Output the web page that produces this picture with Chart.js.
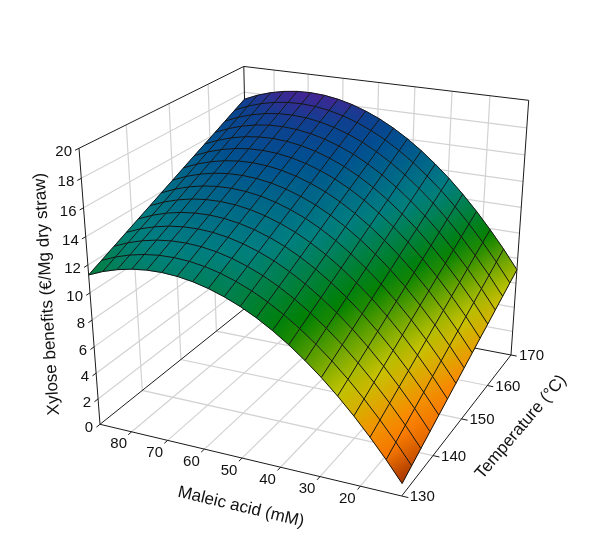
<!DOCTYPE html>
<html>
<head>
<meta charset="utf-8">
<style>
  html, body { margin: 0; padding: 0; background: #fff; }
  #wrap { width: 600px; height: 551px; }
</style>
<script src="https://cdn.jsdelivr.net/npm/chart.js@4"></script>
</head>
<body>
<div id="wrap"><canvas id="surfaceChart" width="600" height="551"></canvas></div>
<script>
"use strict";
const acidTicks = [80, 70, 60, 50, 40, 30, 20];
const tempTicks = [130, 140, 150, 160, 170];
const benefitTicks = [0, 2, 4, 6, 8, 10, 12, 14, 16, 18, 20];
const acidValues = [10, 13.95, 17.9, 21.85, 25.8, 29.75, 33.7, 37.65, 41.6, 45.55, 49.5, 53.45, 57.4, 61.35, 65.3, 69.25, 73.2, 77.15, 81.1, 85.05, 89];
const tempValues = [130, 132.86, 135.71, 138.57, 141.43, 144.29, 147.14, 150, 152.86, 155.71, 158.57, 161.43, 164.29, 167.14, 170];
// one row per temperature, one column per acid value
const benefitRows = [
  [0.93, 2.40, 3.76, 5.03, 6.20, 7.27, 8.23, 9.10, 9.87, 10.54, 11.11, 11.57, 11.94, 12.21, 12.38, 12.45, 12.42, 12.29, 12.06, 11.73, 11.29],
  [1.37, 2.84, 4.20, 5.47, 6.64, 7.71, 8.67, 9.54, 10.31, 10.98, 11.55, 12.01, 12.38, 12.65, 12.82, 12.89, 12.86, 12.73, 12.50, 12.17, 11.73],
  [1.81, 3.28, 4.64, 5.91, 7.08, 8.15, 9.11, 9.98, 10.75, 11.42, 11.99, 12.45, 12.82, 13.09, 13.26, 13.33, 13.30, 13.17, 12.94, 12.61, 12.17],
  [2.25, 3.72, 5.08, 6.35, 7.52, 8.59, 9.55, 10.42, 11.19, 11.86, 12.43, 12.89, 13.26, 13.53, 13.70, 13.77, 13.74, 13.61, 13.38, 13.05, 12.61],
  [2.69, 4.16, 5.52, 6.79, 7.96, 9.03, 9.99, 10.86, 11.63, 12.30, 12.87, 13.33, 13.70, 13.97, 14.14, 14.21, 14.18, 14.05, 13.82, 13.49, 13.05],
  [3.13, 4.60, 5.96, 7.23, 8.40, 9.47, 10.43, 11.30, 12.07, 12.74, 13.31, 13.77, 14.14, 14.41, 14.58, 14.65, 14.62, 14.49, 14.26, 13.93, 13.49],
  [3.57, 5.04, 6.40, 7.67, 8.84, 9.91, 10.87, 11.74, 12.51, 13.18, 13.75, 14.21, 14.58, 14.85, 15.02, 15.09, 15.06, 14.93, 14.70, 14.37, 13.93],
  [4.01, 5.48, 6.84, 8.11, 9.28, 10.35, 11.31, 12.18, 12.95, 13.62, 14.19, 14.65, 15.02, 15.29, 15.46, 15.53, 15.50, 15.37, 15.14, 14.81, 14.37],
  [4.45, 5.92, 7.28, 8.55, 9.72, 10.79, 11.75, 12.62, 13.39, 14.06, 14.63, 15.09, 15.46, 15.73, 15.90, 15.97, 15.94, 15.81, 15.58, 15.25, 14.81],
  [4.89, 6.36, 7.72, 8.99, 10.16, 11.23, 12.19, 13.06, 13.83, 14.50, 15.07, 15.53, 15.90, 16.17, 16.34, 16.41, 16.38, 16.25, 16.02, 15.69, 15.25],
  [5.32, 6.79, 8.15, 9.42, 10.59, 11.66, 12.62, 13.49, 14.26, 14.93, 15.50, 15.96, 16.33, 16.60, 16.77, 16.84, 16.81, 16.68, 16.45, 16.12, 15.68],
  [5.76, 7.23, 8.59, 9.86, 11.03, 12.10, 13.06, 13.93, 14.70, 15.37, 15.94, 16.40, 16.77, 17.04, 17.21, 17.28, 17.25, 17.12, 16.89, 16.56, 16.12],
  [6.20, 7.67, 9.03, 10.30, 11.47, 12.54, 13.50, 14.37, 15.14, 15.81, 16.38, 16.84, 17.21, 17.48, 17.65, 17.72, 17.69, 17.56, 17.33, 17.00, 16.56],
  [6.64, 8.11, 9.47, 10.74, 11.91, 12.98, 13.94, 14.81, 15.58, 16.25, 16.82, 17.28, 17.65, 17.92, 18.09, 18.16, 18.13, 18.00, 17.77, 17.44, 17.00],
  [7.08, 8.55, 9.91, 11.18, 12.35, 13.42, 14.38, 15.25, 16.02, 16.69, 17.26, 17.72, 18.09, 18.36, 18.53, 18.60, 18.57, 18.44, 18.21, 17.88, 17.44],
];
const colorStops = [
  [0.9, "#a03000"], [2.2, "#f07000"], [3.4, "#ff8400"], [5, "#dcaa00"], [6.3, "#c4c400"], [8.2, "#60a000"],
  [9.8, "#008000"], [13, "#008080"], [16, "#005090"], [17.5, "#103f90"], [18.7, "#4b2095"],
];

// perspective of the box, fitted on its corners
function project(acid, temp, benefit) {
  const u = (acid - 10) / 79, v = (temp - 130) / 40, w = benefit / 20;
  const d = 0.0956 * u + 0.2059 * v - 0.09864 * w + 1;
  return {
    x: (-292.14 * u + 214.51 * v - 30.8 * w + 401.7) / d,
    y: (-31.14 * u - 67.91 * v - 317 * w + 496) / d,
  };
}

function hexToRgb(hex) {
  return [1, 3, 5].map((k) => parseInt(hex.slice(k, k + 2), 16));
}

function colorFor(z) {
  let k = 0;
  while (k < colorStops.length - 2 && z > colorStops[k + 1][0]) k++;
  const a = colorStops[k], b = colorStops[k + 1];
  const f = Math.min(1, Math.max(0, (z - a[0]) / (b[0] - a[0])));
  const ca = hexToRgb(a[1]), cb = hexToRgb(b[1]);
  return "rgb(" + ca.map((c, n) => Math.round(c + (cb[n] - c) * f)).join(",") + ")";
}

function polyline(points, color, width) {
  return { data: points, showLine: true, fill: false, borderColor: color, borderWidth: width, pointRadius: 0, tension: 0 };
}

function midpoint(p, q) {
  return { x: (p.x + q.x) / 2, y: (p.y + q.y) / 2 };
}

const ctx = document.getElementById("surfaceChart").getContext("2d");
const datasets = [];
const acidMin = acidValues[0], acidMax = acidValues[acidValues.length - 1];
const tempMin = tempTicks[0], tempMax = tempTicks[tempTicks.length - 1];
const zMax = benefitTicks[benefitTicks.length - 1];
const gridGray = "#d2d2d2";
const frameBlack = "#1a1a1a";

// walls and floor grid
acidTicks.forEach((m) => {
  datasets.push(polyline([project(m, tempMin, 0), project(m, tempMax, 0), project(m, tempMax, zMax)], gridGray, 1.2));
});
tempTicks.slice(1, -1).forEach((t) => {
  datasets.push(polyline([project(acidMin, t, 0), project(acidMax, t, 0), project(acidMax, t, zMax)], gridGray, 1.2));
});
benefitTicks.slice(1, -1).forEach((z) => {
  datasets.push(polyline([project(acidMax, tempMin, z), project(acidMax, tempMax, z), project(acidMin, tempMax, z)], gridGray, 1.2));
});

// box frame
datasets.push(polyline([
  project(acidMax, tempMin, 0), project(acidMax, tempMin, zMax), project(acidMax, tempMax, zMax),
  project(acidMin, tempMax, zMax), project(acidMin, tempMax, 0), project(acidMax, tempMax, 0), project(acidMax, tempMin, 0),
], frameBlack, 1));
datasets.push(polyline([project(acidMax, tempMax, 0), project(acidMax, tempMax, zMax)], frameBlack, 1));
datasets.push(polyline([project(acidMax, tempMin, 0), project(acidMin, tempMin, 0), project(acidMin, tempMax, 0)], frameBlack, 1));

// ticks
acidTicks.forEach((m) => datasets.push(polyline([project(m, tempMin, 0), project(m, tempMin - 0.8, 0)], frameBlack, 1)));
tempTicks.forEach((t) => datasets.push(polyline([project(acidMin, t, 0), project(acidMin - 1.6, t, 0)], frameBlack, 1)));
benefitTicks.forEach((z) => datasets.push(polyline([project(acidMax, tempMin, z), project(acidMax, tempMin - 0.8, z)], frameBlack, 1)));

// surface cells, far corner first
for (let j = tempValues.length - 2; j >= 0; j--) {
  for (let i = acidValues.length - 2; i >= 0; i--) {
    const corners = [[i, j], [i + 1, j], [i + 1, j + 1], [i, j + 1]];
    const pts = corners.map(([a, b]) => project(acidValues[a], tempValues[b], benefitRows[b][a]));
    const zs = corners.map(([a, b]) => benefitRows[b][a]);
    // shade each cell along its steeper direction
    const acidStep = ((zs[1] + zs[2]) - (zs[0] + zs[3])) / 2;
    const tempStep = ((zs[3] + zs[2]) - (zs[0] + zs[1])) / 2;
    const alongAcid = Math.abs(acidStep) > Math.abs(tempStep);
    const from = alongAcid ? midpoint(pts[0], pts[3]) : midpoint(pts[0], pts[1]);
    const to = alongAcid ? midpoint(pts[1], pts[2]) : midpoint(pts[3], pts[2]);
    const zFrom = alongAcid ? (zs[0] + zs[3]) / 2 : (zs[0] + zs[1]) / 2;
    const zTo = alongAcid ? (zs[1] + zs[2]) / 2 : (zs[3] + zs[2]) / 2;
    const shade = ctx.createLinearGradient(from.x, from.y, to.x, to.y);
    shade.addColorStop(0, colorFor(zFrom));
    shade.addColorStop(1, colorFor(zTo));
    datasets.push({
      data: pts.concat([pts[0]]), showLine: true, fill: "shape", backgroundColor: shade,
      borderColor: shade, borderWidth: 0.6, pointRadius: 0, tension: 0,
    });
  }
}

// mesh lines on top
benefitRows.forEach((row, j) => {
  datasets.push(polyline(row.map((z, i) => project(acidValues[i], tempValues[j], z)), "#141414", 1));
});
acidValues.forEach((m, i) => {
  datasets.push(polyline(tempValues.map((t, j) => project(m, t, benefitRows[j][i])), "#141414", 1));
});

const axisText = {
  id: "axisText",
  afterDatasetsDraw(chart) {
    const c = chart.ctx;
    c.save();
    c.fillStyle = "#111";
    c.textBaseline = "middle";
    c.font = "15px 'Liberation Sans'";
    c.textAlign = "center";
    acidTicks.forEach((m) => {
      const p = project(m, tempMin, 0);
      c.fillText(String(m), p.x - 13, p.y + 12.5);
    });
    c.textAlign = "left";
    tempTicks.forEach((t) => {
      const p = project(acidMin, t, 0);
      c.fillText(String(t), p.x + 8, p.y + 1);
    });
    c.textAlign = "right";
    benefitTicks.forEach((z) => {
      const p = project(acidMax, tempMin, z);
      c.fillText(String(z), p.x - 7, p.y + 4);
    });
    c.textAlign = "center";
    c.font = "17px 'Liberation Sans'";
    [["Xylose benefits (€/Mg dry straw)", 47, 294, -93.4],
     ["Maleic acid (mM)", 241, 507, 13.4],
     ["Temperature (°C)", 521, 427, -49.5]].forEach(([label, x, y, deg]) => {
      c.save();
      c.translate(x, y);
      c.rotate(deg * Math.PI / 180);
      c.fillText(label, 0, 0);
      c.restore();
    });
    c.restore();
  },
};

// chart.js paints the first dataset last, so the list is reversed
new Chart(ctx, {
  type: "scatter",
  data: { datasets: datasets.reverse() },
  plugins: [axisText],
  options: {
    responsive: false,
    animation: false,
    events: [],
    layout: { padding: 0 },
    plugins: { legend: { display: false }, tooltip: { enabled: false } },
    scales: {
      x: { type: "linear", display: false, min: 0, max: 600 },
      y: { type: "linear", display: false, min: 0, max: 551, reverse: true },
    },
  },
});
</script>
</body>
</html>
